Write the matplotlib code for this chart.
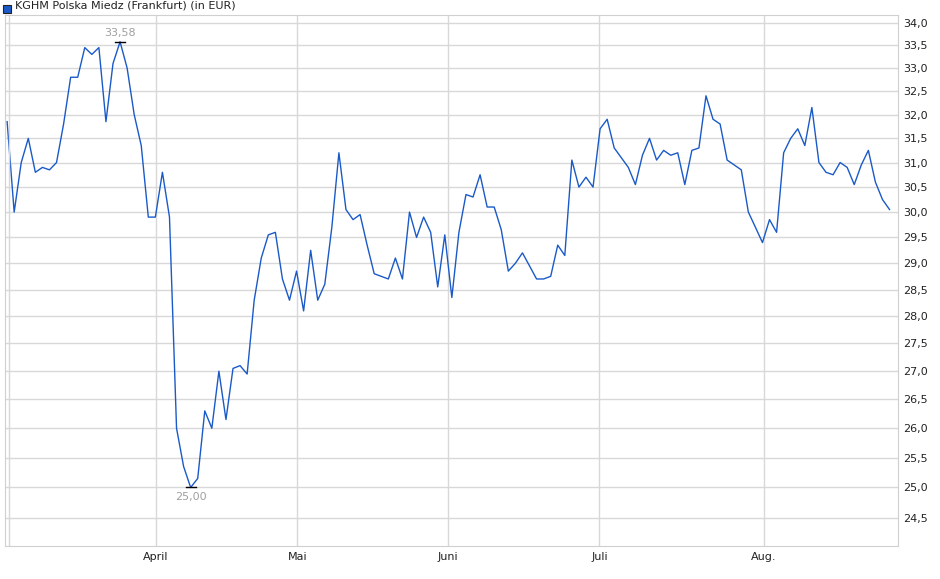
import numpy as np
from matplotlib import pyplot as plt
from matplotlib.ticker import FixedLocator, NullLocator

prices = [31.85, 30.0, 31.0, 31.5, 30.8, 30.9, 30.85, 31.0, 31.8, 32.8,
          32.8, 33.45, 33.3, 33.45, 31.85, 33.1, 33.58, 33.0, 32.0, 31.35,
          29.9, 29.9, 30.8, 29.9, 26.0, 25.35, 25.0, 25.15, 26.3,
          26.0, 27.0, 26.15, 27.05, 27.1, 26.95, 28.3, 29.1, 29.55, 29.6,
          28.7, 28.3, 28.85, 28.1, 29.25, 28.3, 28.6, 29.7, 31.2, 30.05,
          29.85, 29.95, 29.35, 28.8, 28.75, 28.7, 29.1, 28.7, 30.0, 29.5,
          29.9, 29.6, 28.55, 29.55, 28.35, 29.6, 30.35, 30.3, 30.75, 30.1,
          30.1, 29.65, 28.85, 29.0, 29.2, 28.95, 28.7, 28.7, 28.75, 29.35,
          29.15, 31.05, 30.5, 30.7, 30.5, 31.7, 31.9, 31.3, 31.1, 30.9,
          30.55, 31.15, 31.5, 31.05, 31.25, 31.15, 31.2, 30.55, 31.25, 31.3,
          32.4, 31.9, 31.8, 31.05, 30.95, 30.85, 30.0, 29.7, 29.4, 29.85,
          29.6, 31.2, 31.5, 31.7, 31.35, 32.15, 31.0, 30.8, 30.75, 31.0,
          30.9, 30.55, 30.95, 31.25, 30.6, 30.25, 30.05]
month_labels = ['April', 'Mai', 'Juni', 'Juli', 'Aug.']
month_pos = [21.1, 41.1, 62.5, 83.9, 107.2]
y_ticks = [24.5 + 0.5 * i for i in range(20)]

x = np.arange(len(prices))
fig = plt.figure(figsize=(9.4, 5.79), dpi=100)
ax = fig.add_axes([5 / 940, 33 / 579, 893 / 940, 531 / 579])
ax.plot(x, prices, color='#1a5ac8', lw=1.0)
ax.set_yscale('log')
ax.set_ylim(24.05, 34.18)
ax.set_xlim(-0.3, len(prices) + 0.2)
ax.yaxis.set_major_locator(FixedLocator(y_ticks))
ax.yaxis.set_minor_locator(NullLocator())
ax.set_yticklabels([f'{v:.1f}'.replace('.', ',') for v in y_ticks])
ax.yaxis.tick_right()
ax.set_xticks(month_pos)
ax.set_xticklabels(month_labels)
ax.xaxis.set_minor_locator(NullLocator())
ax.tick_params(axis='both', labelsize=8, length=0, pad=4, colors='#222222')
ax.grid(True, color='#d8d8d8', lw=1)
ax.axvline(0.3, color='#d8d8d8', lw=1)
for s in ax.spines.values():
    s.set_color('#d0d0d0')

imax = int(np.argmax(prices))
imin = int(np.argmin(prices))
ax.plot([imax - 0.7, imax + 0.7], [prices[imax]] * 2, color='black', lw=1)
ax.plot([imin - 0.7, imin + 0.7], [prices[imin]] * 2, color='black', lw=1)
ax.annotate(f'{prices[imax]:.2f}'.replace('.', ','), (imax, prices[imax]),
            xytext=(0, 3), textcoords='offset points', ha='center', va='bottom',
            fontsize=8, color='#a0a0a0')
ax.annotate(f'{prices[imin]:.2f}'.replace('.', ','), (imin, prices[imin]),
            xytext=(0, -3), textcoords='offset points', ha='center', va='top',
            fontsize=8, color='#a0a0a0')

fig.patches.append(plt.Rectangle((3 / 940, 1 - 13 / 579), 8 / 940, 8 / 579,
                                 transform=fig.transFigure, facecolor='#1a5ac8',
                                 edgecolor='#222222', lw=0.8))
fig.text(15 / 940, 1 - 6 / 579, 'KGHM Polska Miedz (Frankfurt) (in EUR)',
         fontsize=8, va='center', ha='left', color='#222222')
fig.savefig('out.png')
